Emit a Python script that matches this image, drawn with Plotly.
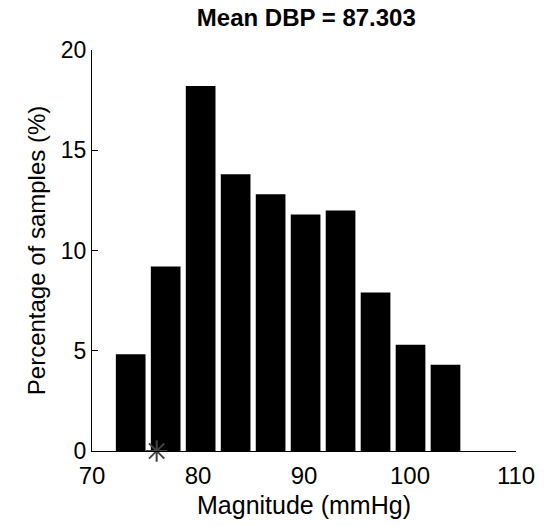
import plotly.graph_objects as go

bin_centers = [73.65, 76.95, 80.25, 83.55, 86.85, 90.15, 93.45, 96.75, 100.05, 103.35]
percentages = [4.83, 9.2, 18.2, 13.8, 12.8, 11.8, 12.0, 7.9, 5.3, 4.3]
marker_x = [76.1]
marker_y = [0]
x_ticks = [70, 80, 90, 100, 110]
y_ticks = [0, 5, 10, 15, 20]
title_text = "Mean DBP = 87.303"

fig = go.Figure()
fig.add_trace(go.Bar(x=bin_centers, y=percentages, width=2.8,
                     marker=dict(color="black", line=dict(width=0))))
fig.add_trace(go.Scatter(x=marker_x, y=marker_y, mode="markers", cliponaxis=False,
                         marker=dict(symbol="asterisk-open", size=18, color="#444444",
                                     line=dict(color="#444444", width=2))))

font = "Liberation Sans, Arial, sans-serif"
fig.update_layout(
    width=547, height=526,
    margin=dict(l=92, r=25, t=50, b=74),
    paper_bgcolor="white", plot_bgcolor="white",
    showlegend=False,
    title=dict(text="<b>" + title_text + "</b>", x=0.56, xanchor="center",
               y=0.966, yanchor="middle",
               font=dict(family=font, size=24, color="black")),
    font=dict(family=font, size=24, color="black"),
)
fig.update_xaxes(range=[70, 110], tickvals=x_ticks, ticks="inside", ticklen=6,
                 tickcolor="black", showline=True, linecolor="black", linewidth=1,
                 showgrid=False, zeroline=False, ticklabelstandoff=3,
                 title=dict(text="Magnitude (mmHg)", font=dict(size=25), standoff=8),
                 tickfont=dict(size=24))
fig.update_yaxes(range=[0, 20], tickvals=y_ticks, ticks="inside", ticklen=6,
                 tickcolor="black", showline=True, linecolor="black", linewidth=1,
                 showgrid=False, zeroline=False,
                 title=dict(text="Percentage of samples (%)", font=dict(size=24), standoff=8),
                 tickfont=dict(size=23))

fig.write_html("out.html")
